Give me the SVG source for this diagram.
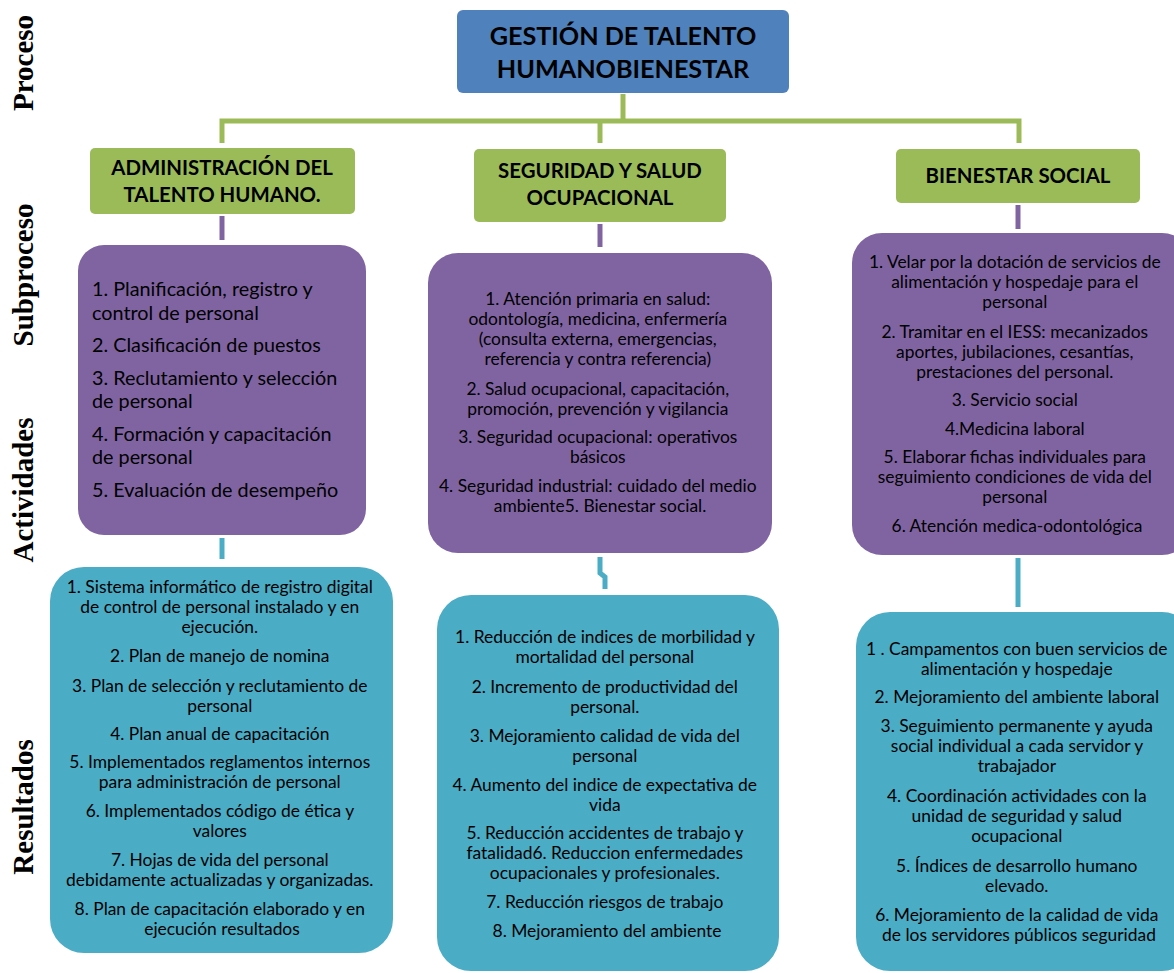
<svg xmlns="http://www.w3.org/2000/svg" width="1174" height="973" viewBox="0 0 1174 973">
  <style>
    .lvl { font-family: "Liberation Serif", "Times New Roman", serif; font-weight: bold; font-size: 29px; fill: #000; }
    .title { font-family: Lato, "Liberation Sans", sans-serif; font-weight: bold; font-size: 25.2px; fill: #000; text-anchor: middle; }
    .head { font-family: Lato, "Liberation Sans", sans-serif; font-weight: bold; font-size: 20.4px; fill: #000; text-anchor: middle; }
    .body { font-family: Lato, "Liberation Sans", sans-serif; font-size: 17.4px; fill: #000; text-anchor: middle; }
    .bodyL { font-family: Lato, "Liberation Sans", sans-serif; font-size: 19.8px; fill: #000; }
    .blue { fill: #4F81BD; }
    .green { fill: #9BBB59; }
    .purple { fill: #8064A2; }
    .cyan { fill: #4BACC6; }
    .cg { fill: none; stroke: #9BBB59; stroke-width: 5; }
    .cp { fill: none; stroke: #8064A2; stroke-width: 5; }
    .cc { fill: none; stroke: #4BACC6; stroke-width: 5; }
  </style>

  <!-- level labels on the left margin -->
  <g id="levels">
    <text class="lvl" transform="translate(33,63) rotate(-90)" text-anchor="middle">Proceso</text>
    <text class="lvl" transform="translate(33,275) rotate(-90)" text-anchor="middle">Subproceso</text>
    <text class="lvl" transform="translate(33,490) rotate(-90)" text-anchor="middle">Actividades</text>
    <text class="lvl" transform="translate(33,807) rotate(-90)" text-anchor="middle">Resultados</text>
  </g>

  <!-- connectors -->
  <g id="connectors">
    <path class="cg" d="M623,94 V121"/>
    <path class="cg" d="M222,143 V121 H1019 V143"/>
    <path class="cg" d="M600,121 V143"/>
    <path class="cp" d="M222,216 V240"/>
    <path class="cp" d="M600,224 V247"/>
    <path class="cp" d="M1018,205 V229"/>
    <path class="cc" d="M222,538 V559"/>
    <path class="cc" d="M600,557 V573 L605,577 V589"/>
    <path class="cc" d="M1018,558 V607"/>
  </g>

  <!-- process -->
  <g id="proceso">
    <rect class="blue" x="457" y="10" width="332" height="83" rx="6"/>
    <text class="title" x="623" y="45">GESTIÓN DE TALENTO</text>
    <text class="title" x="623" y="78">HUMANOBIENESTAR</text>
  </g>

  <!-- subprocesses -->
  <g id="sub-admin">
    <rect class="green" x="90" y="148" width="265" height="66" rx="5"/>
    <text class="head" x="222" y="175">ADMINISTRACIÓN DEL</text>
    <text class="head" x="222" y="202">TALENTO HUMANO.</text>
  </g>
  <g id="sub-seguridad">
    <rect class="green" x="474" y="149" width="252" height="73" rx="5"/>
    <text class="head" x="600" y="178">SEGURIDAD Y SALUD</text>
    <text class="head" x="600" y="205">OCUPACIONAL</text>
  </g>
  <g id="sub-bienestar">
    <rect class="green" x="896" y="149" width="244" height="54" rx="5"/>
    <text class="head" x="1018" y="183">BIENESTAR SOCIAL</text>
  </g>

  <!-- activities -->
  <g id="act-admin">
    <rect class="purple" x="78" y="245" width="288" height="290" rx="26"/>
    <text class="bodyL" x="92">
      <tspan x="92" y="296">1. Planificación, registro y</tspan>
      <tspan x="92" y="320">control de personal</tspan>
      <tspan x="92" y="352">2. Clasificación de puestos</tspan>
      <tspan x="92" y="385">3. Reclutamiento y selección</tspan>
      <tspan x="92" y="408">de personal</tspan>
      <tspan x="92" y="441">4. Formación y capacitación</tspan>
      <tspan x="92" y="464">de personal</tspan>
      <tspan x="92" y="497">5. Evaluación de desempeño</tspan>
    </text>
  </g>
  <g id="act-seguridad">
    <rect class="purple" x="428" y="253" width="344" height="300" rx="30"/>
    <text class="body">
      <tspan x="600" y="305">1. Atención primaria en salud:</tspan>
      <tspan x="600" y="325">odontología, medicina, enfermería</tspan>
      <tspan x="600" y="345">(consulta externa, emergencias,</tspan>
      <tspan x="600" y="365">referencia y contra referencia)</tspan>
      <tspan x="600" y="395">2. Salud ocupacional, capacitación,</tspan>
      <tspan x="600" y="415">promoción, prevención y vigilancia</tspan>
      <tspan x="600" y="443">3. Seguridad ocupacional: operativos</tspan>
      <tspan x="600" y="463">básicos</tspan>
      <tspan x="600" y="492">4. Seguridad industrial: cuidado del medio</tspan>
      <tspan x="600" y="512">ambiente5. Bienestar social.</tspan>
    </text>
  </g>
  <g id="act-bienestar">
    <rect class="purple" x="852" y="233" width="340" height="322" rx="30"/>
    <text class="body">
      <tspan x="1017" y="268">1. Velar por la dotación de servicios de</tspan>
      <tspan x="1017" y="288">alimentación y hospedaje para el</tspan>
      <tspan x="1017" y="308">personal</tspan>
      <tspan x="1017" y="338">2. Tramitar en el IESS: mecanizados</tspan>
      <tspan x="1017" y="358">aportes, jubilaciones, cesantías,</tspan>
      <tspan x="1017" y="378">prestaciones del personal.</tspan>
      <tspan x="1017" y="406">3. Servicio social</tspan>
      <tspan x="1017" y="435">4.Medicina laboral</tspan>
      <tspan x="1017" y="463">5. Elaborar fichas individuales para</tspan>
      <tspan x="1017" y="483">seguimiento condiciones de vida del</tspan>
      <tspan x="1017" y="503">personal</tspan>
      <tspan x="1017" y="532">6. Atención medica-odontológica</tspan>
    </text>
  </g>

  <!-- results -->
  <g id="res-admin">
    <rect class="cyan" x="50" y="567" width="343" height="386" rx="34"/>
    <text class="body">
      <tspan x="222" y="593">1. Sistema informático de registro digital</tspan>
      <tspan x="222" y="613">de control de personal instalado y en</tspan>
      <tspan x="222" y="633">ejecución.</tspan>
      <tspan x="222" y="662">2. Plan de manejo de nomina</tspan>
      <tspan x="222" y="692">3. Plan de selección y reclutamiento de</tspan>
      <tspan x="222" y="712">personal</tspan>
      <tspan x="222" y="740">4. Plan anual de capacitación</tspan>
      <tspan x="222" y="768">5. Implementados reglamentos internos</tspan>
      <tspan x="222" y="788">para administración de personal</tspan>
      <tspan x="222" y="817">6. Implementados código de ética y</tspan>
      <tspan x="222" y="837">valores</tspan>
      <tspan x="222" y="866">7. Hojas de vida del personal</tspan>
      <tspan x="222" y="886">debidamente actualizadas y organizadas.</tspan>
      <tspan x="222" y="915">8. Plan de capacitación elaborado y en</tspan>
      <tspan x="222" y="935">ejecución resultados</tspan>
    </text>
  </g>
  <g id="res-seguridad">
    <rect class="cyan" x="437" y="595" width="342" height="376" rx="34"/>
    <text class="body">
      <tspan x="607" y="643">1. Reducción de indices de morbilidad y</tspan>
      <tspan x="607" y="663">mortalidad del personal</tspan>
      <tspan x="607" y="693">2. Incremento de productividad del</tspan>
      <tspan x="607" y="713">personal.</tspan>
      <tspan x="607" y="742">3. Mejoramiento calidad de vida del</tspan>
      <tspan x="607" y="762">personal</tspan>
      <tspan x="607" y="791">4. Aumento del indice de expectativa de</tspan>
      <tspan x="607" y="811">vida</tspan>
      <tspan x="607" y="839">5. Reducción accidentes de trabajo y</tspan>
      <tspan x="607" y="859">fatalidad6. Reduccion enfermedades</tspan>
      <tspan x="607" y="879">ocupacionales y profesionales.</tspan>
      <tspan x="607" y="908">7. Reducción riesgos de trabajo</tspan>
      <tspan x="607" y="937">8. Mejoramiento del ambiente</tspan>
    </text>
  </g>
  <g id="res-bienestar">
    <rect class="cyan" x="856" y="612" width="340" height="359" rx="34"/>
    <text class="body">
      <tspan x="1019" y="655">1 . Campamentos con buen servicios de</tspan>
      <tspan x="1019" y="675">alimentación y hospedaje</tspan>
      <tspan x="1019" y="703">2. Mejoramiento del ambiente laboral</tspan>
      <tspan x="1019" y="732">3. Seguimiento permanente y ayuda</tspan>
      <tspan x="1019" y="752">social individual a cada servidor y</tspan>
      <tspan x="1019" y="772">trabajador</tspan>
      <tspan x="1019" y="802">4. Coordinación actividades con la</tspan>
      <tspan x="1019" y="822">unidad de seguridad y salud</tspan>
      <tspan x="1019" y="842">ocupacional</tspan>
      <tspan x="1019" y="872">5. Índices de desarrollo humano</tspan>
      <tspan x="1019" y="892">elevado.</tspan>
      <tspan x="1019" y="921">6. Mejoramiento de la calidad de vida</tspan>
      <tspan x="1019" y="941">de los servidores públicos seguridad</tspan>
    </text>
  </g>
</svg>
